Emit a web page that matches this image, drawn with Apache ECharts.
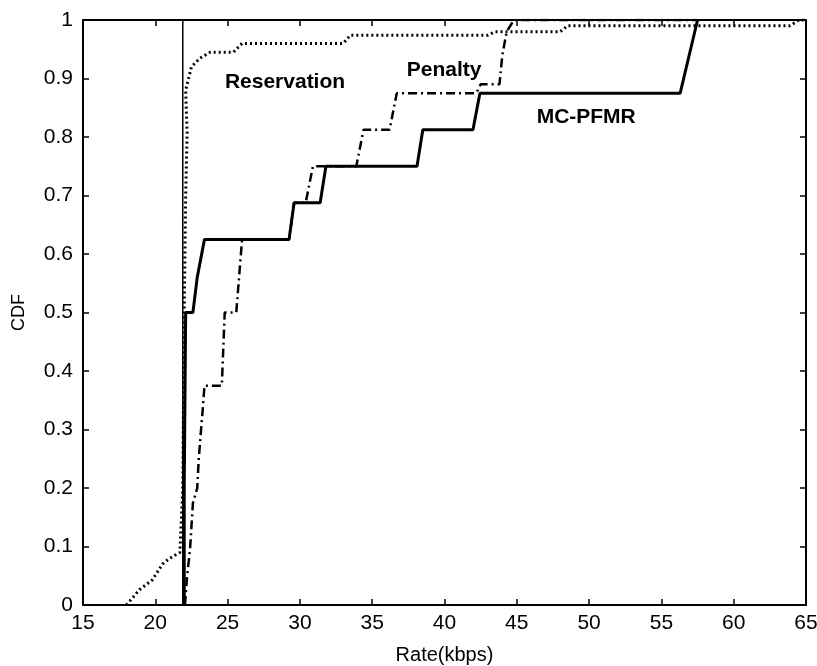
<!DOCTYPE html>
<html><head><meta charset="utf-8">
<script src="https://cdn.jsdelivr.net/npm/echarts@6/dist/echarts.min.js"></script>
<style>html,body{margin:0;padding:0;background:#fff}#c{width:817px;height:666px}</style>
</head><body><div id="c"></div>
<script>
const xTicks = [15,20,25,30,35,40,45,50,55,60,65];
const yTicks = [0,0.1,0.2,0.3,0.4,0.5,0.6,0.7,0.8,0.9,1];
const mcpfmrX = [22.0,22.0,22.1,22.6,22.9,23.4,29.25,29.6,31.4,31.8,38.1,38.5,41.97,42.45,56.3,57.5];
const mcpfmrY = [0,0.2,0.5,0.5,0.56,0.625,0.625,0.6875,0.6875,0.75,0.75,0.8125,0.8125,0.875,0.875,1.0];
const penaltyX = [22.05,22.2,22.4,22.6,22.9,23.0,23.2,23.3,23.4,24.6,24.8,25.6,26.0,29.25,29.6,30.4,30.9,33.9,34.4,36.2,36.7,42.2,42.5,43.8,44.0,44.3,44.8,57.5];
const penaltyY = [0,0.05,0.094,0.174,0.2,0.248,0.311,0.34,0.375,0.375,0.5,0.5,0.625,0.625,0.6875,0.6875,0.75,0.75,0.8125,0.8125,0.875,0.875,0.89,0.89,0.94,0.98,1.0,1.0];
const reservationX = [18.0,18.9,19.8,20.5,21.0,21.7,21.9,22.0,22.1,22.2,22.1,22.5,23.1,23.8,25.4,26.0,33.0,33.5,43.0,43.5,48.0,48.5,63.9,64.5,65];
const reservationY = [0,0.026,0.043,0.07,0.08,0.09,0.2,0.5,0.7,0.807,0.88,0.92,0.935,0.945,0.945,0.96,0.96,0.974,0.974,0.98,0.98,0.99,0.99,1.0,1.0];
const refX = [21.9,21.9];
const refY = [0,1];
const labelText = ['Reservation','Penalty','MC-PFMR'];
const labelX = [28.97,39.97,49.8];
const labelY = [0.894,0.915,0.834];
const zip = (a,b)=>a.map((v,i)=>[v,b[i]]);
const chart = echarts.init(document.getElementById('c'));
const tickFont = 'Liberation Sans';
const axisCommon = {
  axisLine:{show:true,onZero:false,lineStyle:{color:'#000',width:2}},
  axisTick:{show:true,inside:true,length:6,lineStyle:{color:'#000',width:1.5}},
  splitLine:{show:false}
};
chart.setOption({
  animation:false,
  backgroundColor:'#fff',
  grid:{left:83,right:11,top:20,bottom:61,containLabel:false,outerBoundsMode:'none'},
  xAxis:[
    Object.assign({type:'value',min:15,max:65,interval:5,name:'Rate(kbps)',nameLocation:'middle',nameGap:40,
      nameTextStyle:{fontFamily:'Liberation Sans',fontSize:20,color:'#000'},
      axisLabel:{fontFamily:tickFont,fontSize:21,color:'#000',margin:8}},axisCommon),
    Object.assign({type:'value',min:15,max:65,interval:5,position:'top',axisLabel:{show:false}},axisCommon)
  ],
  yAxis:[
    Object.assign({type:'value',min:0,max:1,interval:0.1,name:'CDF',nameLocation:'middle',nameGap:55,
      nameTextStyle:{fontFamily:'Liberation Sans',fontSize:18,color:'#000'},
      axisLabel:{fontFamily:tickFont,fontSize:21,color:'#000',margin:10,
        formatter:v=>(v===0?'0':v===1?'1':v.toFixed(1))}},axisCommon),
    Object.assign({type:'value',min:0,max:1,interval:0.1,position:'right',axisLabel:{show:false}},axisCommon)
  ],
  series:[
    {type:'line',name:'ref',data:zip(refX,refY),showSymbol:false,lineStyle:{color:'#000',width:1.5},z:3},
    {type:'line',name:'Reservation',data:zip(reservationX,reservationY),showSymbol:false,
      lineStyle:{color:'#000',width:3,type:[2,3]},z:4},
    {type:'line',name:'Penalty',data:zip(penaltyX,penaltyY),showSymbol:false,
      lineStyle:{color:'#000',width:2.5,type:[9,4,2,4]},z:5},
    {type:'line',name:'MC-PFMR',data:zip(mcpfmrX,mcpfmrY),showSymbol:false,
      lineStyle:{color:'#000',width:3},z:6},
    {type:'scatter',name:'labels',data:labelX.map((x,i)=>({value:[x,labelY[i]],name:labelText[i]})),
      symbolSize:2,itemStyle:{color:'rgba(255,255,255,0)'},silent:true,z:7,
      label:{show:true,position:'inside',formatter:p=>p.name,fontFamily:'Liberation Sans',fontWeight:'bold',fontSize:21,color:'#000',opacity:1}}
  ]
});
</script></body></html>
